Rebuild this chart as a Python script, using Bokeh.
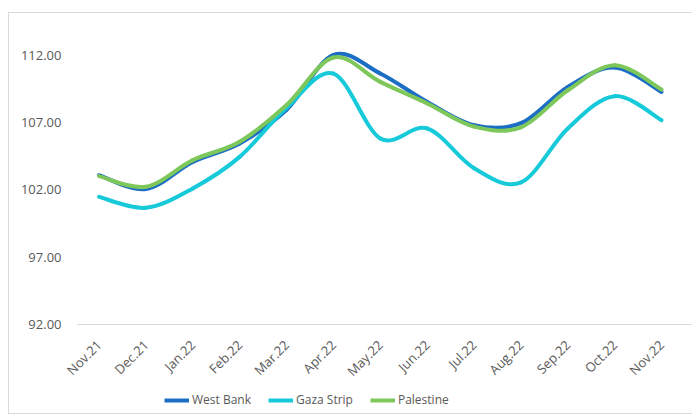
from bokeh.plotting import figure
from bokeh.layouts import column
from bokeh.models import (FixedTicker, NumeralTickFormatter, Range1d, Legend,
                          LegendItem)
from bokeh.embed import file_html
from bokeh.resources import INLINE
import math

# Monthly index values, Nov 2021 - Nov 2022
months = ["Nov.21", "Dec.21", "Jan.22", "Feb.22", "Mar.22", "Apr.22", "May.22",
          "Jun.22", "Jul.22", "Aug.22", "Sep.22", "Oct.22", "Nov.22"]
west_bank = [103.09, 102.06, 104.08, 105.45, 107.95, 112.02, 110.64,
             108.53, 106.80, 106.95, 109.65, 111.09, 109.28]
gaza_strip = [101.48, 100.67, 102.11, 104.45, 108.10, 110.64, 105.82,
              106.56, 103.61, 102.55, 106.56, 108.96, 107.18]
palestine = [103.02, 102.23, 104.21, 105.57, 108.30, 111.83, 110.02,
             108.42, 106.70, 106.65, 109.40, 111.26, 109.45]
y_ticks = [92, 97, 102, 107, 112]

series = [("West Bank", west_bank, "#1C6EC5"),
          ("Gaza Strip", gaza_strip, "#17CAD9"),
          ("Palestine", palestine, "#7DC75B")]

FONT = "Open Sans"
TEXT = "#595959"
EDGE = "#D9D9D9"
W, H_MAIN, H_LEG = 692, 390, 24


def edge(x, y, w, h):
    return f"linear-gradient({EDGE},{EDGE}) {x}px {y}px / {w}px {h}px no-repeat"


# light chart-area border (left, top and bottom edges), drawn behind the canvas
main_bg = ", ".join([edge(8, 12, 1, H_MAIN), edge(8, 12, W, 1)]) + ", white"
leg_bg = ", ".join([edge(8, 0, 1, H_LEG), edge(8, H_LEG - 1, W, 1)]) + ", white"

p = figure(width=W, height=H_MAIN, output_backend="svg", toolbar_location=None,
           x_range=Range1d(-0.459, 12.66), y_range=Range1d(92, 112.5),
           min_border_left=77, min_border_right=0, min_border_top=48,
           min_border_bottom=H_MAIN - 324)
p.outline_line_color = None
p.background_fill_color = "white"
p.border_fill_alpha = 0
p.grid.visible = False
p.styles = {"background": main_bg}


def smooth_segments(ys):
    """Cubic Bezier segments through every point (Catmull-Rom style)."""
    n = len(ys)
    xs = list(range(n))
    seg = dict(x0=[], y0=[], x1=[], y1=[], cx0=[], cy0=[], cx1=[], cy1=[])
    for i in range(n - 1):
        a = max(i - 1, 0)
        b = min(i + 2, n - 1)
        seg["x0"].append(xs[i]); seg["y0"].append(ys[i])
        seg["x1"].append(xs[i + 1]); seg["y1"].append(ys[i + 1])
        seg["cx0"].append(xs[i] + (xs[i + 1] - xs[a]) / 6)
        seg["cy0"].append(ys[i] + (ys[i + 1] - ys[a]) / 6)
        seg["cx1"].append(xs[i + 1] - (xs[b] - xs[i]) / 6)
        seg["cy1"].append(ys[i + 1] - (ys[b] - ys[i]) / 6)
    return seg


for name, ys, color in series:
    p.bezier(line_color=color, line_width=4, line_cap="round", **smooth_segments(ys))

# x axis: month names on a light baseline
xa = p.xaxis[0]
xa.ticker = FixedTicker(ticks=list(range(len(months))))
xa.major_label_overrides = {i: m for i, m in enumerate(months)}
xa.major_label_orientation = math.pi / 4
xa.major_tick_line_color = None
xa.minor_tick_line_color = None
xa.axis_line_color = EDGE
xa.axis_line_width = 1
xa.major_label_standoff = 12
xa.major_label_text_font = FONT
xa.major_label_text_font_size = "13px"
xa.major_label_text_color = TEXT

# y axis: labels only
ya = p.yaxis[0]
ya.ticker = FixedTicker(ticks=y_ticks)
ya.formatter = NumeralTickFormatter(format="0.00")
ya.axis_line_color = None
ya.major_tick_line_color = None
ya.minor_tick_line_color = None
ya.major_label_standoff = 10
ya.major_label_text_font = FONT
ya.major_label_text_font_size = "13px"
ya.major_label_text_color = TEXT

# legend strip under the chart
lg = figure(width=W, height=H_LEG, output_backend="svg", toolbar_location=None,
            x_range=Range1d(0, 1), y_range=Range1d(0, 1),
            x_axis_location=None, y_axis_location=None, min_border=0)
lg.grid.visible = False
lg.outline_line_color = None
lg.background_fill_alpha = 0
lg.border_fill_alpha = 0
lg.styles = {"background": leg_bg}

items = []
for name, ys, color in series:
    # sample line kept outside the visible range; only its legend swatch shows
    sample = lg.line([5, 6], [5, 6], line_color=color, line_width=4)
    items.append(LegendItem(label=name, renderers=[sample]))

legend = Legend(items=items, orientation="horizontal", location=(87, 6),
                glyph_width=25, glyph_height=14, label_height=14,
                label_standoff=3, spacing=17,
                padding=0, margin=0, border_line_color=None,
                background_fill_alpha=0, label_text_font=FONT,
                label_text_font_size="12px", label_text_color=TEXT)
lg.add_layout(legend, "center")

layout = column(p, lg, spacing=0)
open("out.html", "w").write(file_html(layout, INLINE))
